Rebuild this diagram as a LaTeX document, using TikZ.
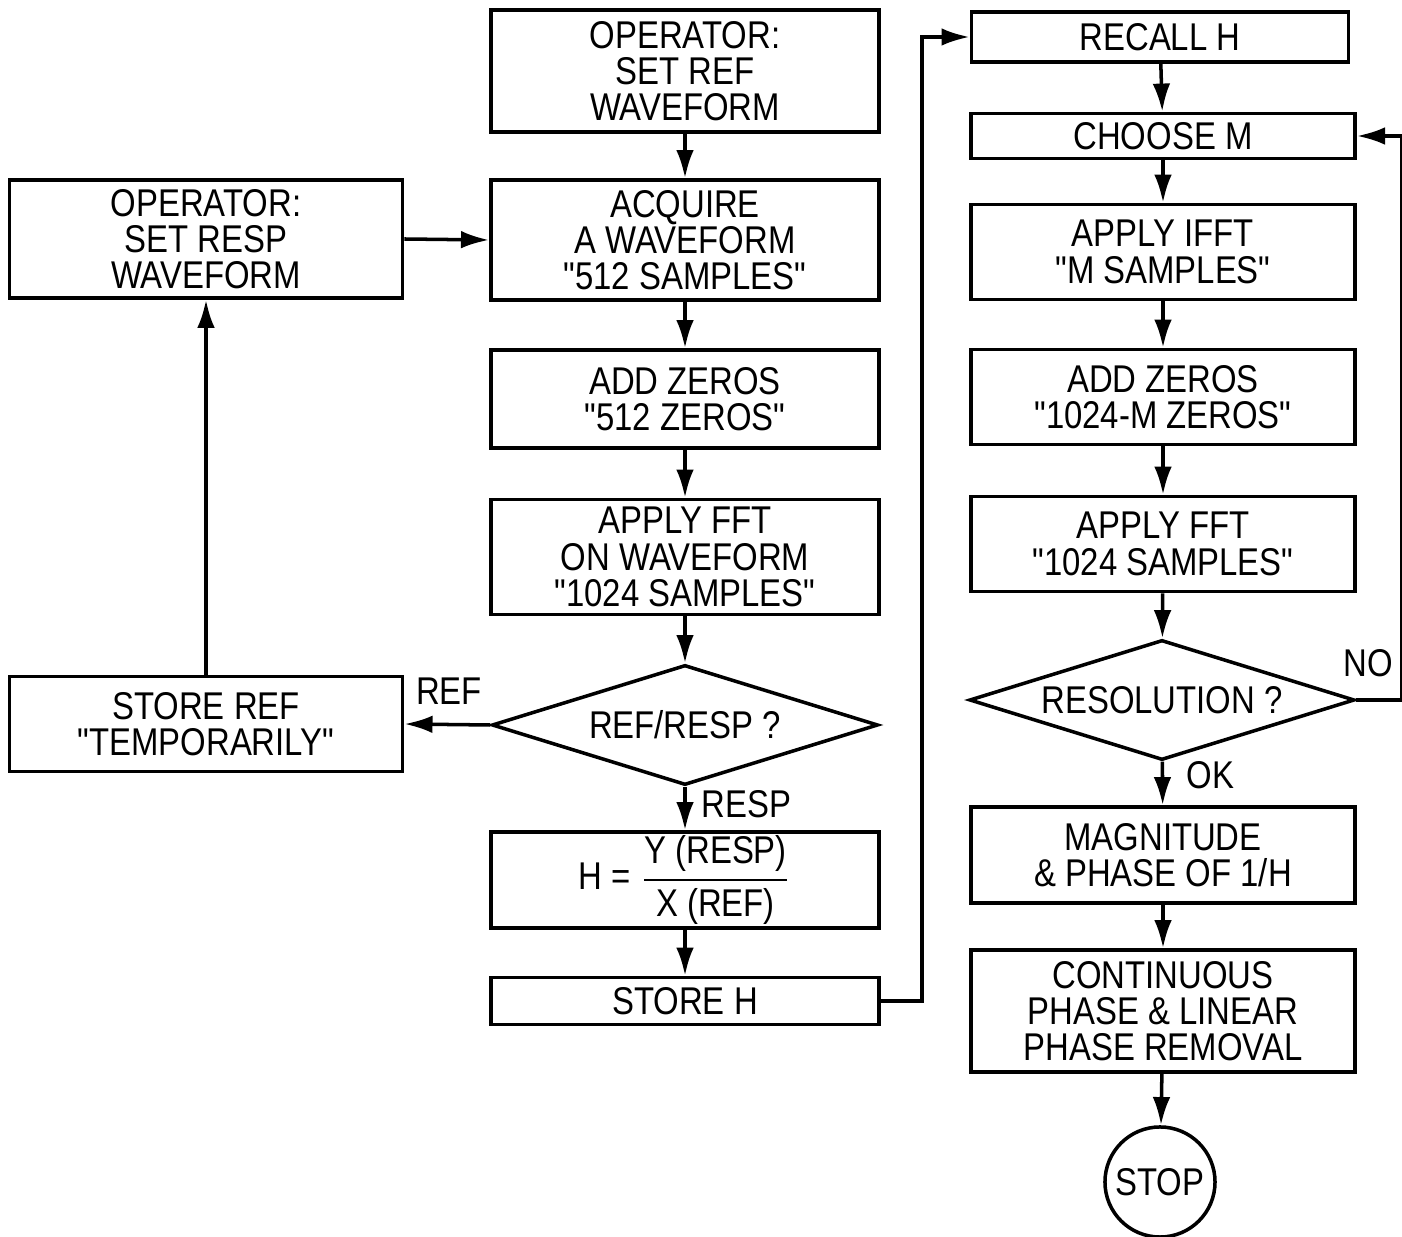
\documentclass[tikz,border=0pt]{standalone}
\usepackage{fontspec}
\usepackage{amsmath}
\setmainfont{Liberation Sans}[FakeStretch=0.85, Ligatures=TeXOff]
\usetikzlibrary{shapes.geometric,arrows.meta}

\tikzset{
    box/.style={draw, line width=1pt, align=center, inner sep=0pt, minimum width=3.88cm},
    rbox/.style={box, minimum width=3.84cm},
    test/.style={draw, diamond, line width=1pt, aspect=3.2, inner sep=0pt,
        minimum width=3.86cm, minimum height=1.2cm},
    flow/.style={-{Latex[length=8pt,width=5pt]}, line width=1pt},
}

\begin{document}
\begin{tikzpicture}[x=0.01cm, y=-0.01cm, font=\fontsize{11}{10.3}\selectfont]
    \useasboundingbox (0,0) rectangle (1402,1237);

    \node[box, minimum height=1.22cm] (opref) at (685,71) {OPERATOR:\\SET REF\\WAVEFORM};
    \node[box, minimum height=1.2cm] (acq) at (685,240) {ACQUIRE\\A WAVEFORM\\"512 SAMPLES"};
    \node[box, minimum height=0.98cm] (addz) at (685,399) {ADD ZEROS\\"512 ZEROS"};
    \node[box, minimum height=1.15cm] (fft) at (685,557) {APPLY FFT\\ON WAVEFORM\\"1024 SAMPLES"};
    \node[test] (dec) at (685,725) {REF/RESP ?};
    \node[box, minimum height=0.96cm] (hbox) at (685,880)
        {H = $\displaystyle\frac{\text{Y (RESP)}}{\text{X (REF)}}$};
    \node[box, minimum height=0.47cm] (storeH) at (685,1001) {STORE H};

    \node[box, minimum width=3.93cm, minimum height=1.18cm] (opresp) at (206,239) {OPERATOR:\\SET RESP\\WAVEFORM};
    \node[box, minimum width=3.93cm, minimum height=0.95cm] (storeref) at (206,724) {STORE REF\\"TEMPORARILY"};

    \node[rbox, minimum width=3.77cm, minimum height=0.5cm] (recall) at (1160,37) {RECALL H};
    \node[rbox, minimum height=0.45cm] (choose) at (1163,136) {CHOOSE M};
    \node[rbox, minimum height=0.95cm] (ifft) at (1163,252) {APPLY IFFT\\"M SAMPLES"};
    \node[rbox, minimum height=0.95cm] (addz2) at (1163,397) {ADD ZEROS\\"1024-M ZEROS"};
    \node[rbox, minimum height=0.95cm] (fft2) at (1163,544) {APPLY FFT\\"1024 SAMPLES"};
    \node[test, minimum width=3.85cm] (res) at (1162,700) {RESOLUTION ?};
    \node[rbox, minimum height=0.96cm] (mag) at (1163,855) {MAGNITUDE\\\& PHASE OF 1/H};
    \node[rbox, minimum height=1.22cm] (cont) at (1163,1011) {CONTINUOUS\\PHASE \& LINEAR\\PHASE REMOVAL};
    \node[draw, circle, line width=1pt, minimum size=1.1cm, inner sep=0pt] (stop) at (1160,1182) {STOP};

    \draw[flow] (opref) -- (acq);
    \draw[flow] (acq) -- (addz);
    \draw[flow] (addz) -- (fft);
    \draw[flow] (fft) -- (dec);
    \draw[flow] (dec) -- node[pos=0.4, right=1pt] {RESP} (hbox);
    \draw[flow] (hbox) -- (storeH);
    \draw[flow] (dec.west) -- node[pos=0.48, above=2pt] {REF} (storeref.east);
    \draw[flow] (storeref) -- (opresp);
    \draw[flow] (opresp.east) -- (acq.west);
    \draw[flow] (storeH.east) -- ++(41,0) |- (recall.west);

    \draw[flow] (recall) -- (choose);
    \draw[flow] (choose) -- (ifft);
    \draw[flow] (ifft) -- (addz2);
    \draw[flow] (addz2) -- (fft2);
    \draw[flow] (fft2) -- (res);
    \draw[flow] (res) -- node[pos=0.3, right=3pt] {OK} (mag);
    \draw[flow] (mag) -- (cont);
    \draw[flow] (cont) -- (stop);
    \draw[flow] (res.east) -- ++(45,0) node[pos=1, anchor=south east, inner sep=2pt, yshift=4pt] {NO} |- (choose.east);
\end{tikzpicture}
\end{document}
